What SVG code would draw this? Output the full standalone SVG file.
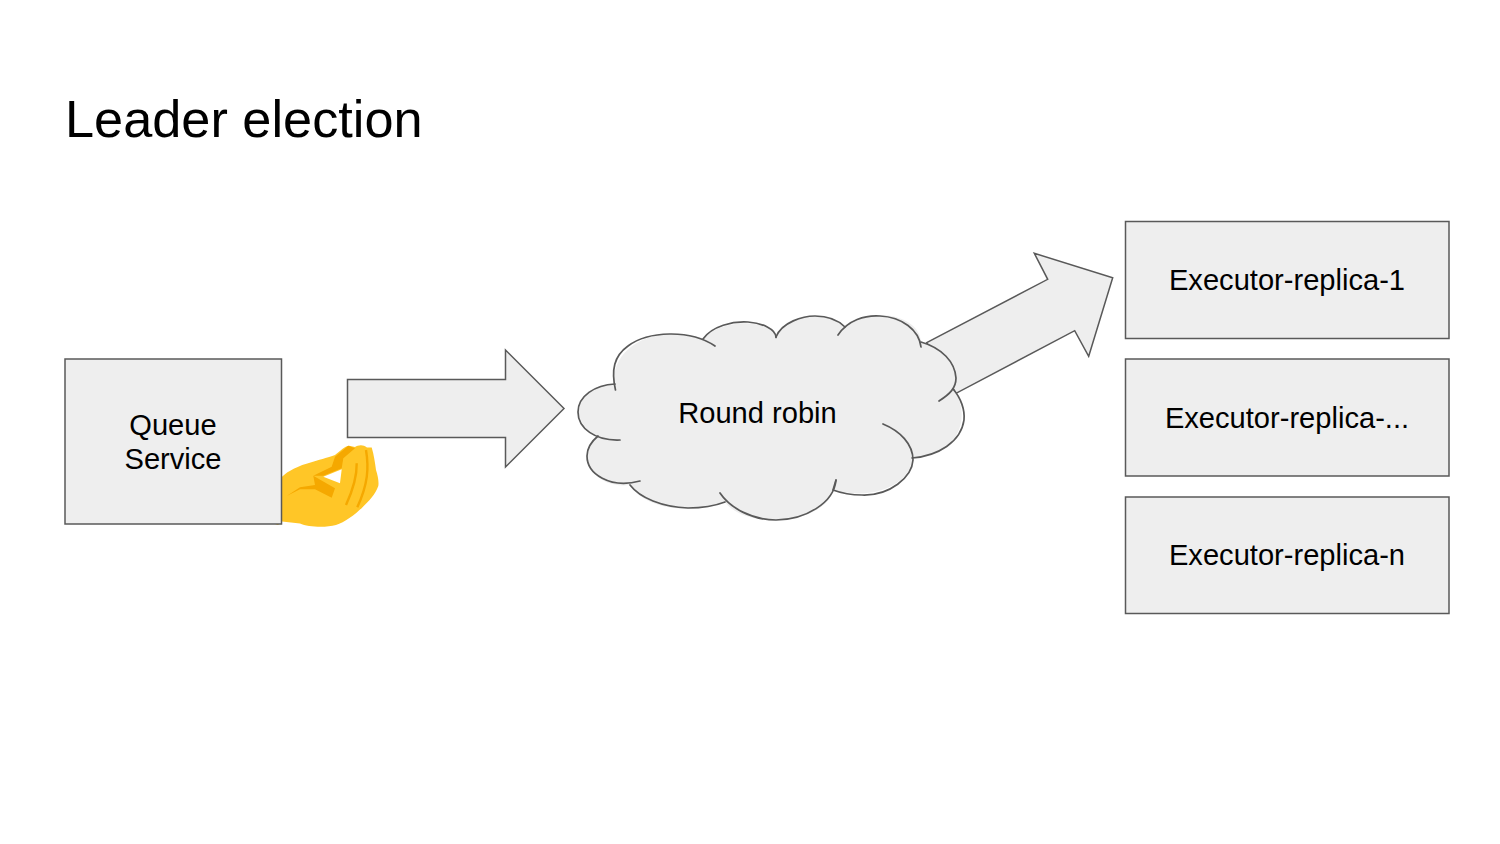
<svg xmlns="http://www.w3.org/2000/svg" width="1500" height="844" viewBox="0 0 1500 844">
<style>
.s{fill:#eeeeee;stroke:#595959;stroke-width:1.5;stroke-linejoin:miter}
.t{font-family:"Liberation Sans",Arial,sans-serif;font-size:29.1px;fill:#000;text-anchor:middle}
.c{fill:none;stroke:#595959;stroke-width:1.7;stroke-linecap:round}
.f{fill:#eeeeee;stroke:none}
</style>
<rect width="1500" height="844" fill="#fff"/>
<text id="title" x="65" y="137" style="font-family:'Liberation Sans',Arial,sans-serif;font-size:52.3px;fill:#000">Leader election</text>
<g id="connectors">
<polygon id="arrow-1" class="s" points="347.5,379.5 505.5,379.5 505.5,350 564,408.5 505.5,467 505.5,437.5 347.5,437.5"/>
<polygon id="arrow-2" class="s" points="926.7,342.7 1047.7,279.3 1034.3,253.3 1112.7,277.7 1088.7,356.3 1074.7,330.7 956,393.3"/>
</g>
<g id="hand">
<path fill="#ffc627" d="M275 524L282 476.7C288 471 297 466 313 461.7C322 459 330 457 335 455C340 451 345 446 349 445.700L355 447C358 445 363 444 367 447.500L371.700 447.500C374 455 375 463 376 470C378 476 379 482 378.300 486C375 495 369 501 363 506.700C356 514 345 522 336 525C325 528 308 527 300 523.500L282 521.500L278 525Z"/>
<path fill="#ffffff" d="M323.300 476.700L341.700 469.300L340 483.300Z"/>
<path fill="#f5a800" d="M348.300 445.700L355 448.300L343.300 458.300L341.700 468.300L323.300 475.700L313.300 475.700L331.700 466.700L335 456.700Z"/>
<path fill="#f5a800" d="M313.300 475.700L335 488.300L331.700 497.700L315 489.300L300 489.300L286.700 496L300 487.300L315 485Z"/>
<path fill="none" stroke="#f5a800" stroke-width="2.400" d="M356.700 463.300C357 477 352 492 346 505M366 450C369 468 368 484 357.300 507.300"/>
</g>
<g id="queue-service">
<rect class="s" x="65" y="359" width="216.500" height="165"/>
<text class="t" x="173" y="435">Queue</text>
<text class="t" x="173" y="469">Service</text>
</g>
<g id="round-robin">
<path class="f" d="M615 390C608 355 640 333 673 334C690 334 703 339 703 339C715 323 760 315 776 335C790 312 830 312 845 327C870 305 920 315 921 342C950 350 965 385 953 389C970 410 965 455 912 458C912 480 880 502 833 490C825 525 745 530 725 502C695 515 645 510 630 485C590 490 575 450 598 436C570 425 570 385 615 384Z"/>
<path class="c" d="M615.500 390C611 370 614 356 628 346C648 331 690 329 715 346"/>
<path class="c" d="M703 339C712 326 733 321 748 322C762 323 776 329 776 337.500"/>
<path class="c" d="M776 337C782 322 803 316 815 316C828 316 838 320 845 327"/>
<path class="c" d="M838 335C848 320 865 315 880 316C902 317 919 330 921 347"/>
<path class="c" d="M921 342C942 348 955 362 956 378C956 388 950 394 939 401"/>
<path class="c" d="M953 389C961 398 965 410 964 420C961 442 938 456 912 458"/>
<path class="c" d="M883 424C900 431 913 444 913 460C912 477 890 496 862 495C850 495 841 493 833 490L836 480"/>
<path class="c" d="M836 480C834 503 805 520 776 520C752 520 730 508 720 493"/>
<path class="c" d="M725 502C712 507 700 508 688 508C662 507 640 498 630 485"/>
<path class="c" d="M640 481C610 489 587 474 587 456C587 448 592 441 598 436"/>
<path class="c" d="M620 440C595 441 578 428 578 412C578 396 595 385 615 384"/>
<text class="t" x="757.500" y="423">Round robin</text>
</g>
<g id="executor-replica-1">
<rect class="s" x="1125.500" y="221.500" width="323.500" height="117"/>
<text class="t" x="1287" y="290">Executor-replica-1</text>
</g>
<g id="executor-replica-dots">
<rect class="s" x="1125.500" y="359" width="323.500" height="117"/>
<text class="t" x="1287" y="428">Executor-replica-...</text>
</g>
<g id="executor-replica-n">
<rect class="s" x="1125.500" y="497" width="323.500" height="116.500"/>
<text class="t" x="1287" y="565">Executor-replica-n</text>
</g>
</svg>
